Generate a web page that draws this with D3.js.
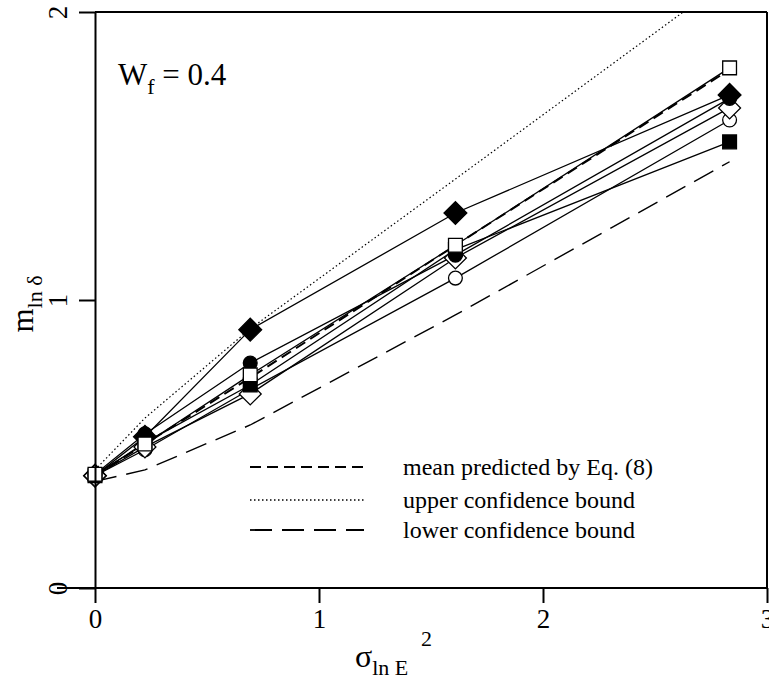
<!DOCTYPE html>
<html>
<head>
<meta charset="utf-8">
<script src="https://cdn.jsdelivr.net/npm/d3@7"></script>
<style>
  body { margin: 0; background: #fff; }
  svg text { font-family: "Liberation Serif", "Times New Roman", "DejaVu Serif", serif !important; fill: #000; }
</style>
</head>
<body>
<div id="viz"></div>
<script>
// chart size
var width = 769;
var height = 683;
var margin = { t: 12, l: 95, b: 95, r: 2 };
var serif = '"Liberation Serif", "Times New Roman", serif';

// data
var sigma2 = [0, 0.223, 0.693, 1.609, 2.833];
var filledDiamond = [0.39, 0.525, 0.897, 1.302, 1.712];
var openSquare = [0.395, 0.5, 0.74, 1.19, 1.806];
var filledSquare = [0.39, 0.505, 0.705, 1.175, 1.549];
var filledCircle = [0.395, 0.535, 0.781, 1.156, 1.70];
var openDiamond = [0.39, 0.49, 0.674, 1.146, 1.667];
var openCircle = [0.39, 0.48, 0.69, 1.076, 1.625];
var meanPred = [0.39, 0.5, 0.73, 1.19, 1.80];
var upperBound = [0.41, 0.59, 0.9, 1.42, 2.118];
var lowerBound = [0.37, 0.41, 0.566, 0.948, 1.48];
var xTicks = [0, 1, 2, 3];
var yTicks = [0, 1, 2];
var legendLabels = ["mean predicted by Eq. (8)", "upper confidence bound", "lower confidence bound"];

// diamond = square turned 45 degrees
var series = [
  { vals: filledDiamond, shape: d3.symbolSquare, size: 260, rot: 45, fill: "#000" },
  { vals: openCircle, shape: d3.symbolCircle, size: 150, rot: 0, fill: "none" },
  { vals: openDiamond, shape: d3.symbolSquare, size: 240, rot: 45, fill: "none" },
  { vals: filledSquare, shape: d3.symbolSquare, size: 190, rot: 0, fill: "#000" },
  { vals: filledCircle, shape: d3.symbolCircle, size: 150, rot: 0, fill: "#000" },
  { vals: openSquare, shape: d3.symbolSquare, size: 190, rot: 0, fill: "none" }
];

var svg = d3.select('#viz').append('svg')
  .attr('width', width)
  .attr('height', height)
  .attr('font-family', serif);

var x = d3.scaleLinear().domain([0, 3]).range([margin.l, width - margin.r]);
var y = d3.scaleLinear().domain([0, 2]).range([height - margin.b, margin.t]);

svg.append('clipPath').attr('id', 'clip')
  .append('rect')
  .attr('x', x(0)).attr('y', y(2))
  .attr('width', x(3) - x(0)).attr('height', y(0) - y(2));

var line = d3.line().x(function(d, i) { return x(sigma2[i]); }).y(function(d) { return y(d); });

var plot = svg.append('g').attr('clip-path', 'url(#clip)');

// bound lines
plot.append('path').attr('d', line(upperBound))
  .attr('fill', 'none').attr('stroke', '#000').attr('stroke-width', 1.2)
  .attr('stroke-dasharray', '1.5,2.5');
plot.append('path').attr('d', line(lowerBound))
  .attr('fill', 'none').attr('stroke', '#000').attr('stroke-width', 1.4)
  .attr('stroke-dasharray', '22,10');

// series lines
series.forEach(function(s) {
  plot.append('path').attr('d', line(s.vals))
    .attr('fill', 'none').attr('stroke', '#000').attr('stroke-width', 1.3);
});

plot.append('path').attr('d', line(meanPred))
  .attr('fill', 'none').attr('stroke', '#000').attr('stroke-width', 2)
  .attr('stroke-dasharray', '11,6');

// markers
series.forEach(function(s) {
  svg.append('g').selectAll('path')
    .data(s.vals)
    .enter().append('path')
    .attr('transform', function(d, i) {
      return 'translate(' + x(sigma2[i]) + ',' + y(d) + ') rotate(' + s.rot + ')';
    })
    .attr('d', d3.symbol().type(s.shape).size(s.size))
    .attr('fill', s.fill == 'none' ? '#fff' : s.fill)
    .attr('stroke', '#000').attr('stroke-width', 1.3);
});

// frame
svg.append('line').attr('x1', x(0)).attr('x2', x(3)).attr('y1', y(2)).attr('y2', y(2))
  .attr('stroke', '#000').attr('stroke-width', 2);
svg.append('line').attr('x1', x(3)).attr('x2', x(3)).attr('y1', y(2)).attr('y2', y(0))
  .attr('stroke', '#000').attr('stroke-width', 2);

// axes
var xAxis = svg.append('g')
  .attr('transform', 'translate(0,' + y(0) + ')')
  .call(d3.axisBottom(x).tickValues(xTicks).tickSize(15).tickSizeOuter(0).tickPadding(6).tickFormat(d3.format('d')));
xAxis.attr('font-family', serif);
xAxis.select('.domain').attr('stroke-width', 2);
xAxis.selectAll('.tick line').attr('stroke-width', 2);
xAxis.selectAll('text').style('font-size', '27px');
xAxis.select('.domain').attr('d', 'M' + (x(0) - 38) + ',0H' + x(3));

var yAxis = svg.append('g')
  .attr('transform', 'translate(' + x(0) + ',0)')
  .call(d3.axisLeft(y).tickValues(yTicks).tickSize(16).tickSizeOuter(0).tickFormat(d3.format('d')));
yAxis.attr('font-family', serif);
yAxis.select('.domain').attr('stroke-width', 2);
yAxis.selectAll('.tick line').attr('stroke-width', 2);
yAxis.selectAll('text')
  .style('font-size', '27px')
  .attr('x', 0).attr('dy', null)
  .attr('text-anchor', 'middle')
  .attr('transform', 'translate(-28,0) rotate(-90)');

// W_f label
var wf = svg.append('text').attr('x', 118).attr('y', 85).style('font-size', '31px');
wf.append('tspan').text('W');
wf.append('tspan').attr('dy', 9).style('font-size', '22px').text('f');
wf.append('tspan').attr('dy', -9).text(' = 0.4');

// axis titles
var yt = svg.append('text')
  .attr('transform', 'translate(33,' + (y(1) + 4) + ') rotate(-90)')
  .attr('text-anchor', 'middle')
  .style('font-size', '31px');
yt.append('tspan').text('m');
yt.append('tspan').attr('dy', 9).style('font-size', '22px').text('ln δ');

var xt = svg.append('text').attr('x', 355).attr('y', 667).style('font-size', '32px');
xt.append('tspan').text('σ');
xt.append('tspan').attr('dy', 8).style('font-size', '22px').text('ln E');
svg.append('text').attr('x', 421).attr('y', 646).style('font-size', '22px').text('2');

// legend
var legStyles = [
  { dash: '11,6', w: 2 },
  { dash: '1.5,2.5', w: 1.4 },
  { dash: '22,10', w: 1.8 }
];
var legY = [467, 500, 530];
var leg = svg.append('g');
legendLabels.forEach(function(t, i) {
  leg.append('line')
    .attr('x1', 250).attr('x2', 364).attr('y1', legY[i]).attr('y2', legY[i])
    .attr('stroke', '#000').attr('stroke-width', legStyles[i].w)
    .attr('stroke-dasharray', legStyles[i].dash);
  leg.append('text').attr('x', 403).attr('y', legY[i] + 8)
    .style('font-size', '24px').text(t);
});
</script>
</body>
</html>
